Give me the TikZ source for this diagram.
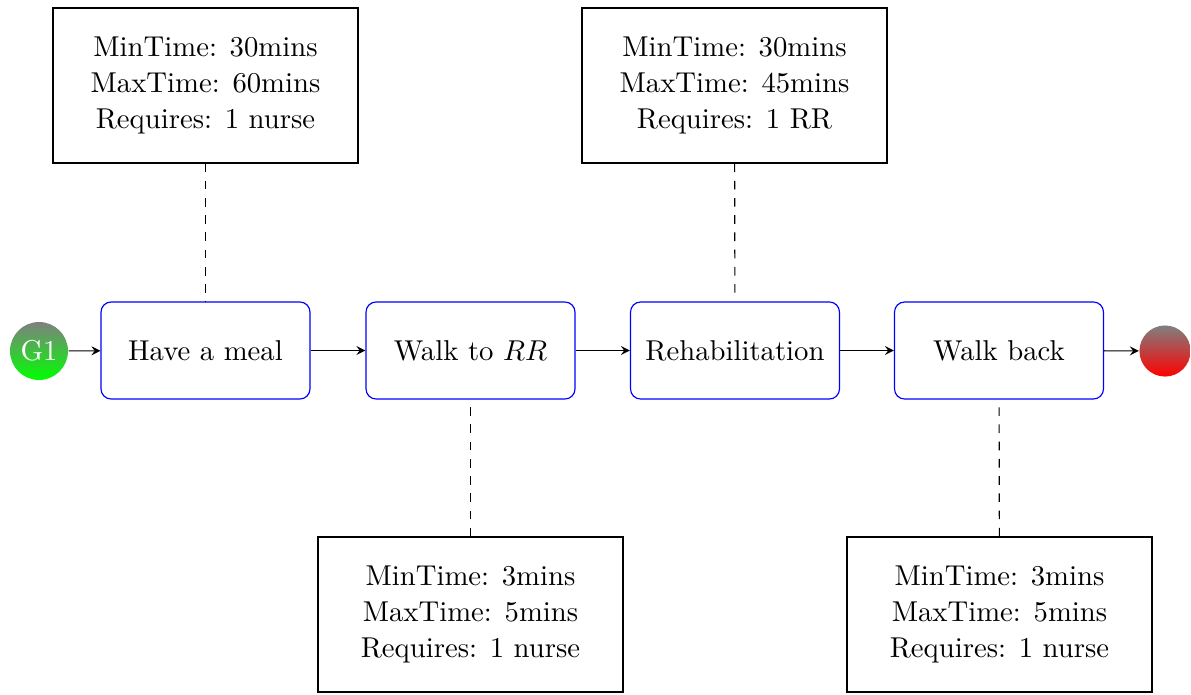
\documentclass[tikz,border=0pt]{standalone}
\usetikzlibrary{arrows.meta}
\begin{document}
\begin{tikzpicture}[x=0.3484pt,y=-0.3484pt,
  task/.style={draw=blue,rounded corners=3.5pt,minimum width=72.8pt,minimum height=33.8pt,inner sep=0pt},
  info/.style={draw,minimum width=106.3pt,minimum height=54pt,align=center,inner sep=0pt,execute at begin node={\setlength{\baselineskip}{12.5pt}}},
  startev/.style={circle,shading=axis,top color=gray,bottom color=green,minimum size=20.2pt,inner sep=0pt,text=white},
  endev/.style={circle,shading=axis,top color=gray,bottom color=red,minimum size=17.8pt,inner sep=0pt},
  flow/.style={-stealth},
  link/.style={dashed}]
\useasboundingbox (0,0) rectangle (1191,694);
\node[startev] (s) at (39,351) {G1};
\node[task] (t1) at (205.5,350.5) {Have a meal};
\node[task] (t2) at (470.5,350.5) {Walk to $RR$};
\node[task] (t3) at (735,350.5) {Rehabilitation};
\node[task] (t4) at (999,350.5) {Walk back};
\node[endev] (e) at (1165,351) {};
\node[info] (i1) at (205.5,85.5) {MinTime: 30mins\\MaxTime: 60mins\\Requires: 1 nurse};
\node[info] (i3) at (734.5,85.5) {MinTime: 30mins\\MaxTime: 45mins\\Requires: 1 RR};
\node[info] (i2) at (470.5,614.5) {MinTime: 3mins\\MaxTime: 5mins\\Requires: 1 nurse};
\node[info] (i4) at (999.5,614.5) {MinTime: 3mins\\MaxTime: 5mins\\Requires: 1 nurse};
\draw[flow] (s) -- (t1);
\draw[flow] (t1) -- (t2);
\draw[flow] (t2) -- (t3);
\draw[flow] (t3) -- (t4);
\draw[flow] (t4) -- (e);
\draw[link] (i1) -- (t1);
\draw[link] (i3) -- (t3);
\draw[link] (i2) -- (t2);
\draw[link] (i4) -- (t4);
\end{tikzpicture}
\end{document}
